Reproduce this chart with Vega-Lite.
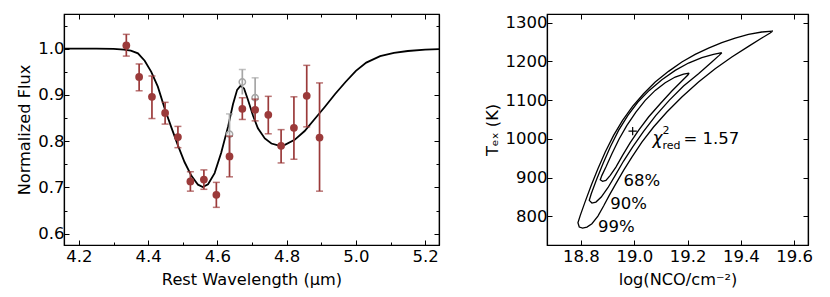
{
  "$schema": "https://vega.github.io/schema/vega-lite/v6.json",
  "background": "white",
  "padding": {"left": 16, "top": 12, "right": 5, "bottom": 2},
  "config": {
    "view": {"stroke": "black", "strokeWidth": 1.2},
    "font": "DejaVu Sans",
    "axis": {
      "grid": false,
      "domainColor": "black",
      "domainWidth": 1.2,
      "tickColor": "black",
      "tickWidth": 1,
      "labelFont": "DejaVu Sans",
      "labelFontSize": 16.5,
      "labelColor": "black",
      "titleFont": "DejaVu Sans",
      "titleFontSize": 16.2,
      "titleFontWeight": "normal",
      "titleColor": "black"
    }
  },
  "datasets": {
    "curve": [
      {"wl": 4.157, "flux": 1.0}, {"wl": 4.25, "flux": 1.0}, {"wl": 4.3, "flux": 0.9995}, {"wl": 4.33, "flux": 0.998},
      {"wl": 4.35, "flux": 0.996}, {"wl": 4.3705, "flux": 0.99}, {"wl": 4.39, "flux": 0.974}, {"wl": 4.409, "flux": 0.95},
      {"wl": 4.428, "flux": 0.918}, {"wl": 4.448, "flux": 0.870}, {"wl": 4.467, "flux": 0.830}, {"wl": 4.486, "flux": 0.791},
      {"wl": 4.505, "flux": 0.755}, {"wl": 4.525, "flux": 0.725}, {"wl": 4.544, "flux": 0.706}, {"wl": 4.558, "flux": 0.701},
      {"wl": 4.573, "flux": 0.707}, {"wl": 4.592, "flux": 0.731}, {"wl": 4.611, "flux": 0.775}, {"wl": 4.631, "flux": 0.832},
      {"wl": 4.645, "flux": 0.88}, {"wl": 4.657, "flux": 0.911}, {"wl": 4.667, "flux": 0.92}, {"wl": 4.677, "flux": 0.914},
      {"wl": 4.688, "flux": 0.89}, {"wl": 4.703, "flux": 0.855}, {"wl": 4.717, "flux": 0.828}, {"wl": 4.737, "flux": 0.806},
      {"wl": 4.756, "flux": 0.795}, {"wl": 4.775, "flux": 0.791}, {"wl": 4.795, "flux": 0.792}, {"wl": 4.823, "flux": 0.803},
      {"wl": 4.852, "flux": 0.822}, {"wl": 4.881, "flux": 0.848}, {"wl": 4.91, "flux": 0.874}, {"wl": 4.94, "flux": 0.902},
      {"wl": 4.97, "flux": 0.928}, {"wl": 5.0, "flux": 0.952}, {"wl": 5.03, "flux": 0.97}, {"wl": 5.07, "flux": 0.984},
      {"wl": 5.11, "flux": 0.991}, {"wl": 5.15, "flux": 0.995}, {"wl": 5.2, "flux": 0.998}, {"wl": 5.24, "flux": 0.999}
    ],
    "obs": [
      {"wl": 4.337, "flux": 1.007, "lo": 0.984, "hi": 1.031},
      {"wl": 4.374, "flux": 0.939, "lo": 0.909, "hi": 0.967},
      {"wl": 4.411, "flux": 0.896, "lo": 0.849, "hi": 0.941},
      {"wl": 4.449, "flux": 0.861, "lo": 0.837, "hi": 0.884},
      {"wl": 4.486, "flux": 0.809, "lo": 0.786, "hi": 0.832},
      {"wl": 4.522, "flux": 0.713, "lo": 0.692, "hi": 0.734},
      {"wl": 4.561, "flux": 0.717, "lo": 0.696, "hi": 0.738},
      {"wl": 4.597, "flux": 0.684, "lo": 0.657, "hi": 0.711},
      {"wl": 4.635, "flux": 0.767, "lo": 0.723, "hi": 0.811},
      {"wl": 4.672, "flux": 0.87, "lo": 0.847, "hi": 0.894},
      {"wl": 4.709, "flux": 0.868, "lo": 0.844, "hi": 0.891},
      {"wl": 4.747, "flux": 0.857, "lo": 0.816, "hi": 0.897},
      {"wl": 4.784, "flux": 0.79, "lo": 0.753, "hi": 0.825},
      {"wl": 4.821, "flux": 0.829, "lo": 0.761, "hi": 0.896},
      {"wl": 4.858, "flux": 0.898, "lo": 0.831, "hi": 0.964},
      {"wl": 4.895, "flux": 0.808, "lo": 0.692, "hi": 0.926}
    ],
    "orig": [
      {"wl": 4.635, "flux": 0.815, "lo": 0.771, "hi": 0.859},
      {"wl": 4.672, "flux": 0.928, "lo": 0.901, "hi": 0.955},
      {"wl": 4.709, "flux": 0.894, "lo": 0.851, "hi": 0.937}
    ],
    "contours": [
      {"level": "99", "i": 0, "n": 19.5199, "t": 1278.4}, {"level": "99", "i": 1, "n": 19.4786, "t": 1275.9},
      {"level": "99", "i": 2, "n": 19.4286, "t": 1269.8}, {"level": "99", "i": 3, "n": 19.3786, "t": 1260.4},
      {"level": "99", "i": 4, "n": 19.3286, "t": 1248.3}, {"level": "99", "i": 5, "n": 19.2786, "t": 1234.5},
      {"level": "99", "i": 6, "n": 19.2286, "t": 1218.2}, {"level": "99", "i": 7, "n": 19.1786, "t": 1198.4},
      {"level": "99", "i": 8, "n": 19.1286, "t": 1174.3}, {"level": "99", "i": 9, "n": 19.0786, "t": 1146.8},
      {"level": "99", "i": 10, "n": 19.0349, "t": 1116.6}, {"level": "99", "i": 11, "n": 18.9936, "t": 1083.9},
      {"level": "99", "i": 12, "n": 18.9561, "t": 1047.8}, {"level": "99", "i": 13, "n": 18.9224, "t": 1009.1},
      {"level": "99", "i": 14, "n": 18.8911, "t": 966.0}, {"level": "99", "i": 15, "n": 18.8636, "t": 923.0},
      {"level": "99", "i": 16, "n": 18.8386, "t": 880.0}, {"level": "99", "i": 17, "n": 18.8161, "t": 838.6},
      {"level": "99", "i": 18, "n": 18.7974, "t": 802.5}, {"level": "99", "i": 19, "n": 18.7886, "t": 783.6},
      {"level": "99", "i": 20, "n": 18.7936, "t": 772.4}, {"level": "99", "i": 21, "n": 18.8061, "t": 769.8},
      {"level": "99", "i": 22, "n": 18.8224, "t": 772.4}, {"level": "99", "i": 23, "n": 18.8411, "t": 781.0},
      {"level": "99", "i": 24, "n": 18.8636, "t": 800.8}, {"level": "99", "i": 25, "n": 18.8849, "t": 826.6},
      {"level": "99", "i": 26, "n": 18.9061, "t": 854.1}, {"level": "99", "i": 27, "n": 18.9311, "t": 884.3},
      {"level": "99", "i": 28, "n": 18.9599, "t": 918.7}, {"level": "99", "i": 29, "n": 18.9911, "t": 953.1},
      {"level": "99", "i": 30, "n": 19.0286, "t": 991.8}, {"level": "99", "i": 31, "n": 19.0724, "t": 1030.6},
      {"level": "99", "i": 32, "n": 19.1224, "t": 1069.3}, {"level": "99", "i": 33, "n": 19.1786, "t": 1108.0},
      {"level": "99", "i": 34, "n": 19.2411, "t": 1146.8}, {"level": "99", "i": 35, "n": 19.3036, "t": 1181.2},
      {"level": "99", "i": 36, "n": 19.3661, "t": 1211.3}, {"level": "99", "i": 37, "n": 19.4286, "t": 1238.8},
      {"level": "99", "i": 38, "n": 19.4786, "t": 1260.4}, {"level": "99", "i": 39, "n": 19.5099, "t": 1273.3},
      {"level": "99", "i": 40, "n": 19.5199, "t": 1278.4},

      {"level": "90", "i": 0, "n": 19.3286, "t": 1222.5}, {"level": "90", "i": 1, "n": 19.2974, "t": 1218.2},
      {"level": "90", "i": 2, "n": 19.2536, "t": 1209.6}, {"level": "90", "i": 3, "n": 19.2036, "t": 1195.8},
      {"level": "90", "i": 4, "n": 19.1536, "t": 1176.9}, {"level": "90", "i": 5, "n": 19.1036, "t": 1152.8},
      {"level": "90", "i": 6, "n": 19.0561, "t": 1125.2}, {"level": "90", "i": 7, "n": 19.0136, "t": 1095.1},
      {"level": "90", "i": 8, "n": 18.9761, "t": 1060.7}, {"level": "90", "i": 9, "n": 18.9411, "t": 1022.0},
      {"level": "90", "i": 10, "n": 18.9099, "t": 978.9}, {"level": "90", "i": 11, "n": 18.8824, "t": 935.9},
      {"level": "90", "i": 12, "n": 18.8574, "t": 892.9}, {"level": "90", "i": 13, "n": 18.8386, "t": 858.4},
      {"level": "90", "i": 14, "n": 18.8311, "t": 841.2}, {"level": "90", "i": 15, "n": 18.8411, "t": 834.3},
      {"level": "90", "i": 16, "n": 18.8561, "t": 836.9}, {"level": "90", "i": 17, "n": 18.8761, "t": 849.8},
      {"level": "90", "i": 18, "n": 18.9011, "t": 873.9}, {"level": "90", "i": 19, "n": 18.9286, "t": 905.8},
      {"level": "90", "i": 20, "n": 18.9599, "t": 942.8}, {"level": "90", "i": 21, "n": 18.9936, "t": 978.9},
      {"level": "90", "i": 22, "n": 19.0349, "t": 1019.4}, {"level": "90", "i": 23, "n": 19.0811, "t": 1060.7},
      {"level": "90", "i": 24, "n": 19.1311, "t": 1099.4}, {"level": "90", "i": 25, "n": 19.1849, "t": 1136.4},
      {"level": "90", "i": 26, "n": 19.2411, "t": 1168.3}, {"level": "90", "i": 27, "n": 19.2911, "t": 1198.4},
      {"level": "90", "i": 28, "n": 19.3186, "t": 1215.6}, {"level": "90", "i": 29, "n": 19.3286, "t": 1222.5},

      {"level": "68", "i": 0, "n": 19.2061, "t": 1170.0}, {"level": "68", "i": 1, "n": 19.1849, "t": 1167.4},
      {"level": "68", "i": 2, "n": 19.1536, "t": 1159.7}, {"level": "68", "i": 3, "n": 19.1161, "t": 1145.0},
      {"level": "68", "i": 4, "n": 19.0786, "t": 1125.2}, {"level": "68", "i": 5, "n": 19.0411, "t": 1099.4},
      {"level": "68", "i": 6, "n": 19.0061, "t": 1069.3}, {"level": "68", "i": 7, "n": 18.9724, "t": 1034.9},
      {"level": "68", "i": 8, "n": 18.9436, "t": 1000.4}, {"level": "68", "i": 9, "n": 18.9161, "t": 961.7},
      {"level": "68", "i": 10, "n": 18.8936, "t": 927.3}, {"level": "68", "i": 11, "n": 18.8786, "t": 905.8},
      {"level": "68", "i": 12, "n": 18.8724, "t": 894.6}, {"level": "68", "i": 13, "n": 18.8811, "t": 890.3},
      {"level": "68", "i": 14, "n": 18.8936, "t": 892.9}, {"level": "68", "i": 15, "n": 18.9099, "t": 905.8},
      {"level": "68", "i": 16, "n": 18.9311, "t": 927.3}, {"level": "68", "i": 17, "n": 18.9561, "t": 957.4},
      {"level": "68", "i": 18, "n": 18.9849, "t": 990.1}, {"level": "68", "i": 19, "n": 19.0161, "t": 1022.0},
      {"level": "68", "i": 20, "n": 19.0536, "t": 1056.4}, {"level": "68", "i": 21, "n": 19.0974, "t": 1090.8},
      {"level": "68", "i": 22, "n": 19.1411, "t": 1123.5}, {"level": "68", "i": 23, "n": 19.1786, "t": 1149.3},
      {"level": "68", "i": 24, "n": 19.2011, "t": 1164.8}, {"level": "68", "i": 25, "n": 19.2061, "t": 1170.0}
    ],
    "best": [{"n": 18.994, "t": 1020}],
    "levels": [
      {"n": 18.96, "t": 891, "label": "68%"},
      {"n": 18.91, "t": 831, "label": "90%"},
      {"n": 18.864, "t": 772, "label": "99%"}
    ],
    "chi": [{"n": 19.0685, "t": 1000}]
  },
  "spacing": 39,
  "hconcat": [
    {
      "width": 375,
      "height": 231,
      "resolve": {"axis": {"x": "independent", "y": "independent"}},
      "layer": [
        {
          "data": {"name": "curve"},
          "mark": {"type": "line", "color": "black", "strokeWidth": 1.8},
          "encoding": {
            "x": {
              "field": "wl", "type": "quantitative",
              "scale": {"domain": [4.157, 5.24], "nice": false, "zero": false},
              "axis": {
                "orient": "bottom", "title": "Rest Wavelength (μm)",
                "values": [4.2, 4.3, 4.4, 4.5, 4.6, 4.7, 4.8, 4.9, 5.0, 5.1, 5.2],
                "format": ".1f",
                "labelExpr": "round(datum.value*10)%2==0 ? datum.label : ''",
                "tickSize": {"condition": {"test": "round(datum.value*10)%2==0", "value": -5}, "value": -3},
                "labelPadding": 8, "titlePadding": 7
              }
            },
            "y": {
              "field": "flux", "type": "quantitative",
              "scale": {"domain": [0.5756, 1.075], "nice": false, "zero": false},
              "axis": {
                "orient": "left", "title": "Normalized Flux",
                "values": [0.6, 0.65, 0.7, 0.75, 0.8, 0.85, 0.9, 0.95, 1.0, 1.05],
                "format": ".1f",
                "labelExpr": "round(datum.value*20)%2==0 ? datum.label : ''",
                "tickSize": {"condition": {"test": "round(datum.value*20)%2==0", "value": -5}, "value": -3},
                "labelPadding": 5, "titlePadding": 5
              }
            }
          }
        },
        {
          "data": {"name": "orig"},
          "mark": {"type": "rule", "color": "#a6a6a6", "strokeWidth": 1.7},
          "encoding": {
            "x": {"field": "wl", "type": "quantitative", "axis": null},
            "y": {"field": "lo", "type": "quantitative", "axis": null},
            "y2": {"field": "hi"}
          }
        },
        {
          "data": {"name": "orig"},
          "mark": {"type": "tick", "orient": "horizontal", "color": "#a6a6a6", "size": 7, "thickness": 1.5},
          "encoding": {
            "x": {"field": "wl", "type": "quantitative", "axis": null},
            "y": {"field": "hi", "type": "quantitative", "axis": null}
          }
        },
        {
          "data": {"name": "orig"},
          "mark": {"type": "point", "filled": false, "color": "#a6a6a6", "size": 40, "strokeWidth": 1.5, "opacity": 1},
          "encoding": {
            "x": {"field": "wl", "type": "quantitative", "axis": null},
            "y": {"field": "flux", "type": "quantitative", "axis": null}
          }
        },
        {
          "data": {"name": "obs"},
          "mark": {"type": "rule", "color": "#9b3a3a", "strokeWidth": 1.7},
          "encoding": {
            "x": {"field": "wl", "type": "quantitative", "axis": null},
            "y": {"field": "lo", "type": "quantitative", "axis": null},
            "y2": {"field": "hi"}
          }
        },
        {
          "data": {"name": "obs"},
          "mark": {"type": "tick", "orient": "horizontal", "color": "#9b3a3a", "size": 7, "thickness": 1.5},
          "encoding": {
            "x": {"field": "wl", "type": "quantitative", "axis": null},
            "y": {"field": "lo", "type": "quantitative", "axis": null}
          }
        },
        {
          "data": {"name": "obs"},
          "mark": {"type": "tick", "orient": "horizontal", "color": "#9b3a3a", "size": 7, "thickness": 1.5},
          "encoding": {
            "x": {"field": "wl", "type": "quantitative", "axis": null},
            "y": {"field": "hi", "type": "quantitative", "axis": null}
          }
        },
        {
          "data": {"name": "obs"},
          "mark": {"type": "circle", "color": "#9b3a3a", "size": 60, "opacity": 1},
          "encoding": {
            "x": {
              "field": "wl", "type": "quantitative",
              "axis": {
                "orient": "top", "title": null, "labels": false,
                "values": [4.2, 4.3, 4.4, 4.5, 4.6, 4.7, 4.8, 4.9, 5.0, 5.1, 5.2],
                "tickSize": {"condition": {"test": "round(datum.value*10)%2==0", "value": -5}, "value": -3}
              }
            },
            "y": {
              "field": "flux", "type": "quantitative",
              "axis": {
                "orient": "right", "title": null, "labels": false,
                "values": [0.6, 0.65, 0.7, 0.75, 0.8, 0.85, 0.9, 0.95, 1.0, 1.05],
                "tickSize": {"condition": {"test": "round(datum.value*20)%2==0", "value": -5}, "value": -3}
              }
            }
          }
        }
      ]
    },
    {
      "width": 261,
      "height": 231,
      "resolve": {"axis": {"x": "independent", "y": "independent"}},
      "layer": [
        {
          "data": {"name": "contours"},
          "mark": {"type": "line", "color": "black", "strokeWidth": 1.3},
          "encoding": {
            "x": {
              "field": "n", "type": "quantitative",
              "scale": {"domain": [18.6725, 19.652], "nice": false, "zero": false},
              "axis": {
                "orient": "bottom", "title": "log(NCO/cm⁻²)",
                "values": [18.8, 19.0, 19.2, 19.4, 19.6], "format": ".1f",
                "tickSize": -5, "labelPadding": 8, "titlePadding": 7
              }
            },
            "y": {
              "field": "t", "type": "quantitative",
              "scale": {"domain": [726, 1322.4], "nice": false, "zero": false},
              "axis": {
                "orient": "left", "title": "Tₑₓ (K)",
                "values": [800, 900, 1000, 1100, 1200, 1300], "format": "d",
                "tickSize": -5, "labelPadding": 5, "titlePadding": 5
              }
            },
            "detail": {"field": "level"},
            "order": {"field": "i", "type": "quantitative"}
          }
        },
        {
          "data": {"name": "best"},
          "mark": {"type": "point", "shape": "M-1,0L1,0M0,-1L0,1", "filled": false, "color": "black", "size": 70, "strokeWidth": 1.2, "opacity": 1},
          "encoding": {
            "x": {"field": "n", "type": "quantitative", "axis": null},
            "y": {"field": "t", "type": "quantitative", "axis": null}
          }
        },
        {
          "data": {"name": "levels"},
          "mark": {"type": "text", "align": "left", "baseline": "middle", "fontSize": 16.5, "font": "DejaVu Sans", "color": "black"},
          "encoding": {
            "x": {"field": "n", "type": "quantitative", "axis": null},
            "y": {"field": "t", "type": "quantitative", "axis": null},
            "text": {"field": "label"}
          }
        },
        {
          "data": {"name": "chi"},
          "mark": {"type": "text", "text": "χ", "align": "left", "baseline": "middle", "fontSize": 17, "fontStyle": "italic", "font": "DejaVu Sans", "color": "black"},
          "encoding": {
            "x": {"field": "n", "type": "quantitative", "axis": null},
            "y": {"field": "t", "type": "quantitative", "axis": null}
          }
        },
        {
          "data": {"name": "chi"},
          "mark": {"type": "text", "text": "2", "align": "left", "baseline": "middle", "dx": 10, "dy": -8, "fontSize": 11, "font": "DejaVu Sans", "color": "black"},
          "encoding": {
            "x": {"field": "n", "type": "quantitative", "axis": null},
            "y": {"field": "t", "type": "quantitative", "axis": null}
          }
        },
        {
          "data": {"name": "chi"},
          "mark": {"type": "text", "text": "red", "align": "left", "baseline": "middle", "dx": 10, "dy": 7, "fontSize": 11, "font": "DejaVu Sans", "color": "black"},
          "encoding": {
            "x": {"field": "n", "type": "quantitative", "axis": null},
            "y": {"field": "t", "type": "quantitative", "axis": null}
          }
        },
        {
          "data": {"name": "chi"},
          "mark": {"type": "text", "text": "= 1.57", "align": "left", "baseline": "middle", "dx": 31, "fontSize": 16.5, "font": "DejaVu Sans", "color": "black"},
          "encoding": {
            "x": {"field": "n", "type": "quantitative", "axis": null},
            "y": {"field": "t", "type": "quantitative", "axis": null}
          }
        },
        {
          "data": {"name": "best"},
          "mark": {"type": "point", "opacity": 0},
          "encoding": {
            "x": {
              "field": "n", "type": "quantitative",
              "axis": {"orient": "top", "title": null, "labels": false, "values": [18.8, 19.0, 19.2, 19.4, 19.6], "tickSize": -5}
            },
            "y": {
              "field": "t", "type": "quantitative",
              "axis": {"orient": "right", "title": null, "labels": false, "values": [800, 900, 1000, 1100, 1200, 1300], "tickSize": -5}
            }
          }
        }
      ]
    }
  ]
}
